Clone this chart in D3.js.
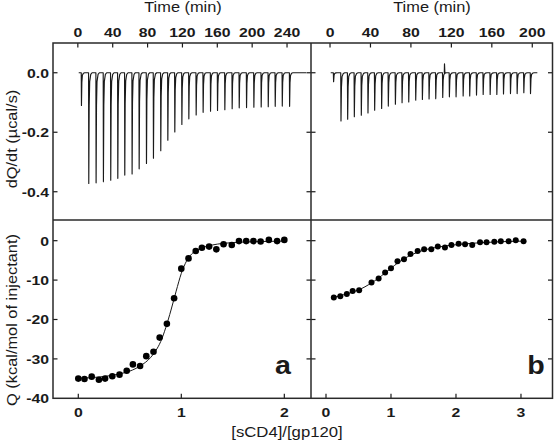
<!DOCTYPE html>
<html><head><meta charset="utf-8">
<script src="https://cdn.jsdelivr.net/npm/d3@7"></script>
<style>html,body{margin:0;padding:0;background:#fff}svg{display:block}</style>
</head><body>
<svg id="c" width="554" height="444"></svg>
<script>
// ---------- data ----------
const timeTicksA = [0, 40, 80, 120, 160, 200, 240];
const timeTicksB = [0, 40, 80, 120, 160, 200];
const dqTicks = [0, -0.2, -0.4];
const dqTickLabels = ["0.0", "-0.2", "-0.4"];
const qTicks = [0, -10, -20, -30, -40];
const ratioTicksA = [0, 1, 2];
const ratioTicksB = [0, 1, 2, 3];

// injection times (min) and peak heights (µcal/s), panel a
const injTimeA = [3.9, 12.3, 20.7, 29.1, 37.5, 45.6, 53.6, 62.0, 70.1, 78.5, 86.5, 94.9, 103.0, 111.0, 119.1,
  127.1, 135.5, 143.5, 152.0, 160.0, 168.4, 176.8, 184.9, 193.3, 201.7, 210.1, 218.2, 226.2, 234.3, 242.7];
const injPeakA = [-0.11, -0.372, -0.37, -0.366, -0.361, -0.355, -0.344, -0.34, -0.323, -0.305, -0.287, -0.262, -0.227, -0.199, -0.174,
  -0.155, -0.142, -0.133, -0.129, -0.127, -0.124, -0.121, -0.118, -0.117, -0.116, -0.115, -0.114, -0.113, -0.112, -0.113];
// panel b
const injTimeB = [3.3, 10.6, 17.2, 23.8, 30.7, 37.3, 43.9, 50.8, 57.4, 64.4, 71.0, 77.6, 84.5, 91.1, 97.7,
  104.3, 111.2, 117.8, 124.4, 131.4, 137.9, 144.6, 151.2, 158.1, 164.7, 171.3, 178.2, 184.8, 191.4, 198.0];
const injPeakB = [-0.03, -0.162, -0.156, -0.148, -0.143, -0.135, -0.126, -0.12, -0.112, -0.106, -0.101, -0.098, -0.092, -0.09, -0.088,
  -0.087, -0.083, -0.081, -0.081, -0.078, -0.078, -0.075, -0.073, -0.073, -0.073, -0.071, -0.07, -0.07, -0.067, -0.07];
const artifactB = { time: 113, value: 0.03 };
const baselineA = [1, 262];
const baselineB = [0.7, 205];

// integrated heats, panel a
const ratioA = [0.00, 0.06, 0.13, 0.20, 0.26, 0.33, 0.40, 0.47, 0.53, 0.60, 0.66, 0.73, 0.79, 0.86, 0.93,
  1.00, 1.07, 1.14, 1.20, 1.27, 1.34, 1.41, 1.49, 1.56, 1.63, 1.70, 1.77, 1.85, 1.93, 2.00];
const heatA = [-35.0, -35.1, -34.5, -35.3, -35.0, -34.4, -34.0, -33.0, -31.4, -31.8, -29.3, -28.2, -24.6, -21.1, -14.6,
  -7.1, -4.5, -2.6, -1.8, -1.5, -2.2, -0.9, -1.1, -0.1, -0.1, -0.1, -0.2, 0.2, -0.1, 0.2];
const fitXA = [0.0, 0.2, 0.4, 0.5, 0.6, 0.7, 0.75, 0.8, 0.85, 0.9, 0.95, 1.0, 1.05, 1.1, 1.15, 1.2, 1.3, 1.4, 1.6, 1.8, 2.0];
const fitYA = [-34.9, -34.6, -33.8, -33.1, -31.8, -29.7, -28.0, -25.6, -22.0, -17.6, -12.8, -8.3, -5.2, -3.4, -2.4, -1.8, -1.1, -0.7, -0.35, -0.2, -0.1];

// panel b
const ratioB = [0.12, 0.22, 0.32, 0.41, 0.51, 0.70, 0.81, 0.91, 1.00, 1.10, 1.20, 1.30, 1.41, 1.51, 1.62, 1.72, 1.83, 1.93,
  2.04, 2.14, 2.25, 2.37, 2.47, 2.59, 2.69, 2.81, 2.92, 3.04];
const heatB = [-14.4, -14.1, -13.5, -12.8, -12.6, -10.6, -9.6, -8.1, -7.0, -5.2, -4.7, -3.4, -2.6, -2.2, -2.2, -1.5, -1.7, -1.1,
  -0.8, -0.9, -1.1, -0.4, -0.4, -0.25, -0.15, -0.15, 0.1, -0.15];
const fitXB = [0.12, 0.3, 0.5, 0.6, 0.7, 0.8, 0.9, 1.0, 1.1, 1.2, 1.3, 1.4, 1.5, 1.7, 1.9, 2.1, 2.4, 2.7, 3.04];
const fitYB = [-14.4, -13.6, -12.5, -11.7, -10.7, -9.6, -8.3, -7.0, -5.7, -4.6, -3.7, -3.0, -2.4, -1.7, -1.2, -0.85, -0.5, -0.25, -0.1];

// ---------- layout ----------
const L = 53, M = 311, R = 552.5, T = 43, D = 220, B = 398.3;
const INK = "#1a1a1a";
const FONT = "'Liberation Sans', Arial, sans-serif";
const SX = 1.17; // horizontal stretch of the original lettering

const svg = d3.select("#c");

const xTa = d3.scaleLinear([-28.5, 267.5], [L, M]);
const xTb = d3.scaleLinear([-18.8, 220], [M, R]);
const yT = d3.scaleLinear([-0.495, 0.1], [D, T]);
const xQa = d3.scaleLinear([-0.2456, 2.259], [L, M]);
const xQb = d3.scaleLinear([-0.2308, 3.485], [M, R]);
const yQ = d3.scaleLinear([-40, 5.25], [B, D]);

function label(x, y, str, o = {}) {
  const size = o.size || 14;
  const t = svg.append("text")
    .attr("transform", `translate(${x},${y})` + (o.rot ? ` rotate(${o.rot})` : "") + ` scale(${o.sx || SX},1)`)
    .attr("text-anchor", o.anchor || "middle")
    .attr("font-family", FONT)
    .attr("font-size", size)
    .attr("font-weight", o.weight || "normal")
    .attr("fill", INK)
    .text(str);
  if (o.dy) t.attr("dy", o.dy);
  return t;
}

// ---------- thermograms ----------
function thermoPoints(times, peaks, base, extra) {
  const pts = [[base[0], 0]];
  times.forEach((t, i) => {
    const d = peaks[i];
    if (extra && extra.time > (i ? times[i - 1] : 0) && extra.time < t) {
      pts.push([extra.time, 0], [extra.time + 0.2, extra.value], [extra.time + 0.6, 0]);
    }
    pts.push([t, 0], [t + 0.25, d], [t + 0.7, d * 0.3], [t + 1.3, d * 0.08], [t + 2.5, d * 0.015], [t + 4, 0]);
  });
  pts.push([base[1], 0]);
  return pts;
}
function drawThermo(xs, times, peaks, base, extra) {
  const line = d3.line().x(p => xs(p[0])).y(p => yT(p[1]));
  svg.append("path").attr("d", line(thermoPoints(times, peaks, base, extra)))
    .attr("fill", "none").attr("stroke", INK).attr("stroke-width", 1.15).attr("stroke-linejoin", "round");
}
drawThermo(xTa, injTimeA, injPeakA, baselineA, null);
drawThermo(xTb, injTimeB, injPeakB, baselineB, artifactB);

// ---------- binding isotherms ----------
function drawIso(xs, rx, hy, fx, fy, r) {
  const line = d3.line().x(i => xs(fx[i])).y(i => yQ(fy[i])).curve(d3.curveMonotoneX);
  svg.append("path").attr("d", line(d3.range(fx.length)))
    .attr("fill", "none").attr("stroke", INK).attr("stroke-width", 1);
  svg.append("g").selectAll("circle").data(d3.range(rx.length)).join("circle")
    .attr("cx", i => xs(rx[i])).attr("cy", i => yQ(hy[i])).attr("r", r).attr("fill", "#000");
}
drawIso(xQa, ratioA, heatA, fitXA, fitYA, 3.3);
drawIso(xQb, ratioB, heatB, fitXB, fitYB, 3.0);

// ---------- ticks ----------
const TL = 4.5;
const tickG = svg.append("g").attr("stroke", INK).attr("stroke-width", 1.2);
function hTicks(vals, xs, y, dir) { vals.forEach(v => tickG.append("line").attr("x1", xs(v)).attr("x2", xs(v)).attr("y1", y).attr("y2", y + dir * TL)); }
function vTicks(vals, ys, x, dir) { vals.forEach(v => tickG.append("line").attr("y1", ys(v)).attr("y2", ys(v)).attr("x1", x).attr("x2", x + dir * TL)); }
hTicks(timeTicksA, xTa, T, 1);
hTicks(timeTicksB, xTb, T, 1);
hTicks(ratioTicksA, xQa, B, -1);
hTicks(ratioTicksB, xQb, B, -1);
vTicks(dqTicks, yT, L, 1); vTicks(dqTicks, yT, M, -1); vTicks(dqTicks, yT, M, 1); vTicks(dqTicks, yT, R, -1);
vTicks(qTicks.slice(0, 4), yQ, L, 1); vTicks(qTicks.slice(0, 4), yQ, M, -1); vTicks(qTicks.slice(0, 4), yQ, M, 1); vTicks(qTicks.slice(0, 4), yQ, R, -1);

// ---------- frame ----------
const fr = svg.append("g").attr("stroke", "#2a2a2a").attr("stroke-width", 1.5).attr("fill", "none");
fr.append("rect").attr("x", L).attr("y", T).attr("width", R - L).attr("height", B - T);
fr.append("line").attr("x1", M).attr("x2", M).attr("y1", T).attr("y2", B);
fr.append("line").attr("x1", L).attr("x2", R).attr("y1", D).attr("y2", D);

// ---------- tick labels ----------
timeTicksA.forEach(v => label(xTa(v), 36.5, v, { weight: "bold", size: 13.5 }));
timeTicksB.forEach(v => label(xTb(v), 36.5, v, { weight: "bold", size: 13.5 }));
dqTicks.forEach((v, i) => label(49, yT(v), dqTickLabels[i], { weight: "bold", size: 13.5, anchor: "end", dy: "0.36em" }));
qTicks.forEach(v => label(49, yQ(v), v, { weight: "bold", size: 13.5, anchor: "end", dy: "0.36em" }));
ratioTicksA.forEach(v => label(xQa(v), 416.5, v, { weight: "bold", size: 13.5 }));
ratioTicksB.forEach(v => label(xQb(v), 416.5, v, { weight: "bold", size: 13.5 }));

// ---------- titles ----------
label((L + M) / 2 + 1, 12, "Time (min)", { size: 14 });
label(432, 12, "Time (min)", { size: 14 });
label(17, 139, "dQ/dt (µcal/s)", { size: 14, rot: -90 });
label(17, 320, "Q (kcal/mol of injectant)", { size: 14, rot: -90 });
label(287, 437, "[sCD4]/[gp120]", { size: 14.3 });
label(283, 374, "a", { size: 26, weight: "bold", sx: 1.1 });
label(536, 374, "b", { size: 26, weight: "bold", sx: 1.1 });
</script>
</body></html>
